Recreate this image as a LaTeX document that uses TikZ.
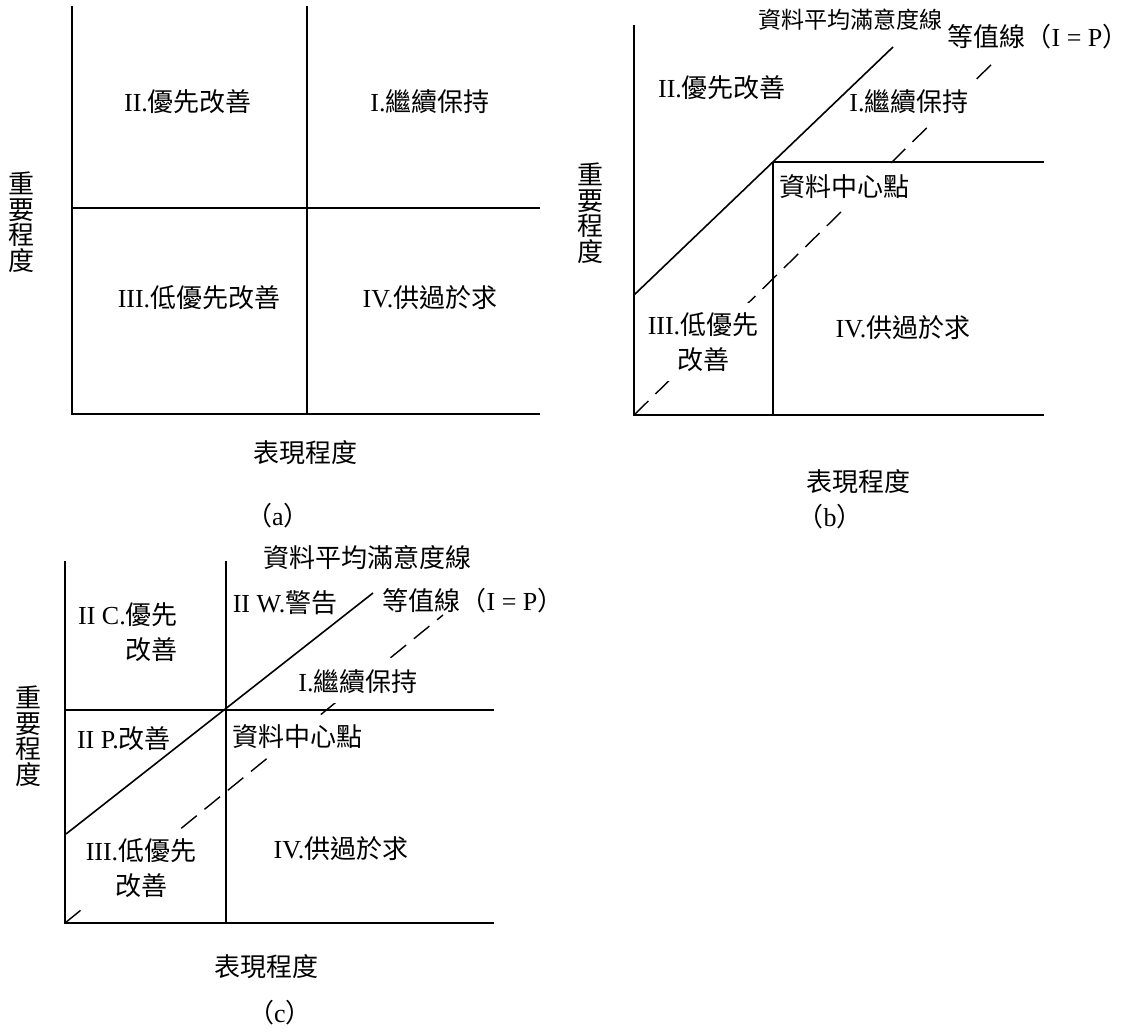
\documentclass[tikz,border=0pt]{standalone}
\usepackage{fontspec}
\setmainfont{Liberation Serif}
\newfontfamily\cjk{Noto Sans CJK TC}
\newcommand{\zh}[1]{{\cjk #1}}
\tikzset{
  axisline/.style={line width=2.6pt, line join=miter},
  midline/.style={line width=1.6pt},
  eqline/.style={line width=1.4pt, dash pattern=on 20pt off 10pt},
  lbl/.style={font=\fontsize{26}{35}\selectfont, inner sep=2pt, align=center},
  lblw/.style={lbl, fill=white, inner xsep=4pt, inner ysep=9pt},
  vlbl/.style={font=\fontsize{26}{25.5}\selectfont, align=center, inner sep=0pt},
}
\begin{document}
\begin{tikzpicture}[x=1pt,y=-1pt]
\useasboundingbox (0,0) rectangle (1134,1033);
% ---------- coordinates ----------
% panel a
\coordinate (aO) at (72,414); \coordinate (aT) at (72,6); \coordinate (aR) at (540,414);
\coordinate (aMT) at (307,6); \coordinate (aMB) at (307,414);
\coordinate (aML) at (72,208); \coordinate (aMR) at (540,208);
% panel b
\coordinate (bO) at (634,415); \coordinate (bT) at (634,25); \coordinate (bR) at (1044,415);
\coordinate (bC) at (773,162); \coordinate (bCR) at (1044,162); \coordinate (bCB) at (773,415);
\coordinate (bD1) at (634,295); \coordinate (bD2) at (893,47); \coordinate (bE) at (998,58);
% panel c
\coordinate (cO) at (65,923); \coordinate (cT) at (65,561); \coordinate (cR) at (494,923);
\coordinate (cC) at (226,710); \coordinate (cMT) at (226,561); \coordinate (cMB) at (226,923);
\coordinate (cML) at (65,710); \coordinate (cMR) at (494,710);
\coordinate (cD1) at (66,834); \coordinate (cD2) at (373,593); \coordinate (cE) at (443,615);

% ---------- dashed equal-value lines ----------
\draw[eqline] (bO) -- (bE);
\draw[eqline] (cO) -- (cE);

% ---------- labels with white background (interrupt dashed lines) ----------
\node[lblw] (bI) at (909,102) {I.\zh{繼續保持}};
\node[lblw] (bCtr) at (844,187) {\zh{資料中心點}};
\node[lblw] (bIII) at (703,342) {III.\zh{低優先}\\\zh{改善}};
\node[lblw] (cI) at (358,682) {I.\zh{繼續保持}};
\node[lblw] (cCtr) at (297,737) {\zh{資料中心點}};
\node[lblw] (cIII) at (141,868) {III.\zh{低優先}\\\zh{改善}};

% ---------- panel a lines ----------
\draw[midline] (aMT) -- (aMB);
\draw[midline] (aML) -- (aMR);
\draw[axisline] (aT) -- (aO) -- (aR);

% ---------- panel b lines ----------
\draw[midline] (bD1) -- (bD2);
\draw[midline] (bC) -- (bCR);
\draw[midline] (bC) -- (bCB);
\draw[axisline] (bT) -- (bO) -- (bR);

% ---------- panel c lines ----------
\draw[midline] (cMT) -- (cMB);
\draw[midline] (cML) -- (cMR);
\draw[midline] (cD1) -- (cD2);
\draw[axisline] (cT) -- (cO) -- (cR);

% ---------- panel a labels ----------
\node[lbl] (aII) at (188,102) {II.\zh{優先改善}};
\node[lbl] (aI) at (430,102) {I.\zh{繼續保持}};
\node[lbl] (aIII) at (199,298) {III.\zh{低優先改善}};
\node[lbl] (aIV) at (430,298) {IV.\zh{供過於求}};
\node[vlbl] (aY) at (22,222) {\zh{重}\\\zh{要}\\\zh{程}\\\zh{度}};
\node[lbl] (aX) at (305,453) {\zh{表現程度}};
\node[lbl] (aCap) at (278,516) {\zh{（}a\zh{）}};

% ---------- panel b labels ----------
\node[lbl, font=\fontsize{23}{28}\selectfont] (bAvg) at (850,20) {\zh{資料平均滿意度線}};
\node[lbl] (bEq) at (1038,37) {\zh{等值線（}I = P\zh{）}};
\node[lbl] (bII) at (722,88) {II.\zh{優先改善}};
\node[lbl] (bIV) at (903,328) {IV.\zh{供過於求}};
\node[vlbl] (bY) at (590,213) {\zh{重}\\\zh{要}\\\zh{程}\\\zh{度}};
\node[lbl] (bX) at (858,482) {\zh{表現程度}};
\node[lbl] (bCap) at (830,517) {\zh{（}b\zh{）}};

% ---------- panel c labels ----------
\node[lbl] (cAvg) at (367,558) {\zh{資料平均滿意度線}};
\node[lbl] (cEq) at (473,601) {\zh{等值線（}I = P\zh{）}};
\node[lbl] (cIIW) at (285,603) {II W.\zh{警告}};
\node[lbl, align=right, anchor=east] (cIIC) at (180,632) {II C.\zh{優先}\\\zh{改善}};
\node[lbl] (cIIP) at (124,739) {II P.\zh{改善}};
\node[lbl] (cIV) at (341,849) {IV.\zh{供過於求}};
\node[vlbl] (cY) at (28,736) {\zh{重}\\\zh{要}\\\zh{程}\\\zh{度}};
\node[lbl] (cX) at (266,967) {\zh{表現程度}};
\node[lbl] (cCap) at (280,1013) {\zh{（}c\zh{）}};
\end{tikzpicture}
\end{document}
